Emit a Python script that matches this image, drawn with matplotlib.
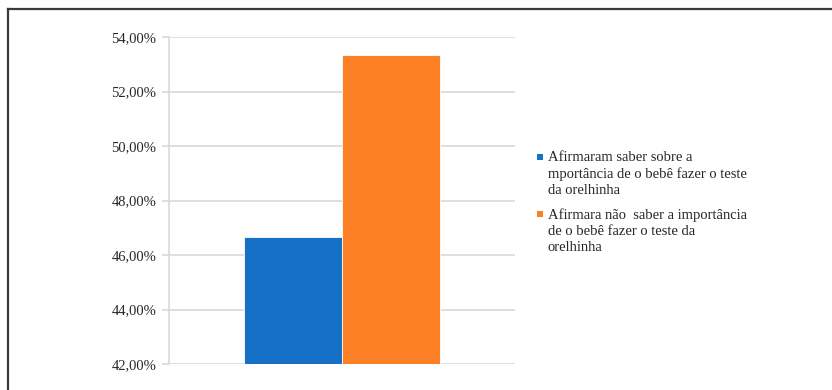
import matplotlib
matplotlib.use("Agg")
import matplotlib.pyplot as plt
from matplotlib.lines import Line2D
from matplotlib.patches import Rectangle
from matplotlib.ticker import FuncFormatter, MultipleLocator

# Survey result: awareness of the newborn hearing screening ("teste da orelhinha")
series_labels = [
    "Afirmaram saber sobre a\nmportância de o bebê fazer o teste\nda orelhinha",
    "Afirmara não  saber a importância\nde o bebê fazer o teste da\norelhinha",
]
series_values = [46.67, 53.33]
series_colors = ["#1570c6", "#fd7f26"]
y_min, y_max, y_step = 42.0, 54.0, 2.0

plt.rcParams["font.family"] = ["Liberation Serif", "DejaVu Serif"]

W, H, DPI = 832, 390, 100
fig = plt.figure(figsize=(W / DPI, H / DPI), dpi=DPI)
fig.patch.set_facecolor("white")

# Outer frame (top and left edges visible)
frame_color = "#3a3a3a"
fig.add_artist(Line2D([8 / W, 8 / W], [0, 1 - 8.5 / H], transform=fig.transFigure,
                      color=frame_color, lw=1.6))
fig.add_artist(Line2D([8 / W, 831 / W], [1 - 8.5 / H, 1 - 8.5 / H], transform=fig.transFigure,
                      color=frame_color, lw=1.6))

left_px, right_px = 169, 515
top_px, bottom_px = 37, 364
ax = fig.add_axes([left_px / W, 1 - bottom_px / H,
                   (right_px - left_px) / W, (bottom_px - top_px) / H])

bar_w = 98 / (right_px - left_px)
center = 0.5
xs = [center - bar_w / 2, center + bar_w / 2]
for x, v, c in zip(xs, series_values, series_colors):
    ax.bar(x, v - y_min, bottom=y_min, width=bar_w, color=c,
           edgecolor="#ffffff", linewidth=0.6, zorder=3)

ax.set_xlim(0, 1)
ax.set_ylim(y_min, y_max)
ax.yaxis.set_major_locator(MultipleLocator(y_step))
ax.yaxis.set_major_formatter(FuncFormatter(lambda v, p: f"{v:.2f}%".replace(".", ",")))
ax.grid(axis="y", color="#d9d9d9", linewidth=1.2, zorder=0)
ax.set_xticks([])
for s in ["top", "right", "bottom"]:
    ax.spines[s].set_visible(False)
ax.spines["left"].set_color("#d9d9d9")
ax.spines["left"].set_linewidth(1.2)
ax.tick_params(axis="y", length=5, width=1.2, color="#d9d9d9", labelsize=10.5,
               labelcolor="#262626", pad=4)

# Legend: square marker aligned with the first line of each wrapped label
leg_text_x = 548
leg_first_line_y = [157, 214]
for lab, c, yc in zip(series_labels, series_colors, leg_first_line_y):
    fig.add_artist(Rectangle((537 / W, 1 - (yc + 3) / H), 6 / W, 6 / H,
                             transform=fig.transFigure, facecolor=c, edgecolor="none"))
    fig.text(leg_text_x / W, 1 - (yc - 5.5) / H, lab, ha="left", va="top",
             fontsize=10.5, color="#262626", linespacing=1.28)

fig.savefig("out.png", dpi=DPI, facecolor="white")
